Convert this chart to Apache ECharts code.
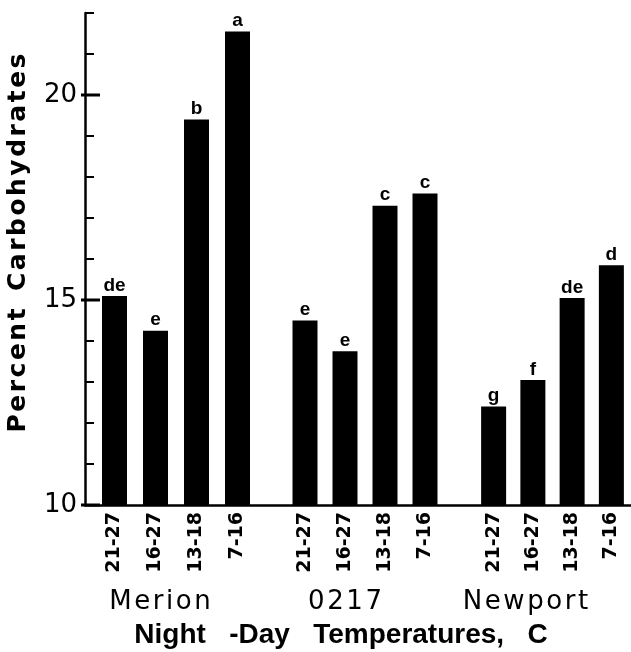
<!DOCTYPE html>
<html>
<head>
<meta charset="utf-8">
<script src="https://cdn.jsdelivr.net/npm/echarts@6/dist/echarts.min.js"></script>
<style>
    html, body { margin: 0; padding: 0; background: #fff; }
    #chart { width: 631px; height: 652px; }
</style>
</head>
<body>
<div id="chart"></div>
<script>
    // temperature regimes (night-day, C)
    var temps = ['21-27', '16-27', '13-18', '7-16'];
    var varieties = ['Merion', '0217', 'Newport'];

    // percent carbohydrates
    var merion = [15.1, 14.25, 19.4, 21.55];
    var v0217 = [14.5, 13.75, 17.3, 17.6];
    var newport = [12.4, 13.05, 15.05, 15.85];

    // significance letters above the bars
    var merionLetters = ['de', 'e', 'b', 'a'];
    var v0217Letters = ['e', 'e', 'c', 'c'];
    var newportLetters = ['g', 'f', 'de', 'd'];

    // labelled (long) ticks on the y axis
    var yTicks = [10, 15, 20];

    var groupValues = [merion, v0217, newport];
    var groupLetters = [merionLetters, v0217Letters, newportLetters];

    // the original print spreads its letters out a little
    function spaced(s) {
        return s.split('').join('\u200A');
    }

    var chart = echarts.init(document.getElementById('chart'));

    var labelFont = 'DejaVu Sans';
    // grid 0: frame with ticks, 1-3: the three varieties
    var grids = [
        {left: 85, right: 0, top: 13, bottom: 147, outerBoundsMode: 'none'},
        {left: 94, width: 164, top: 13, bottom: 147, outerBoundsMode: 'none'},
        {left: 285, width: 160, top: 13, bottom: 147, outerBoundsMode: 'none'},
        {left: 474, width: 157, top: 13, bottom: 147, outerBoundsMode: 'none'}
    ];
    var namePad = [32, 40, 54];

    var xAxes = [{
        gridIndex: 0, type: 'value', min: 0, max: 1,
        axisLine: {show: true, lineStyle: {color: '#000', width: 2.5}},
        axisTick: {show: false}, axisLabel: {show: false}, splitLine: {show: false},
        name: 'Night   -Day   Temperatures,   C',
        nameLocation: 'middle', nameGap: 116,
        nameTextStyle: {color: '#000', fontFamily: 'Liberation Sans', fontWeight: 'bold', fontSize: 28, padding: [0, 34, 0, 0]}
    }];
    var yAxes = [{
        gridIndex: 0, type: 'value', min: 10, max: 22, interval: 1,
        axisLine: {show: true, lineStyle: {color: '#000', width: 2.5}},
        axisTick: {show: true, inside: true, length: 9, lineStyle: {color: '#000', width: 2}},
        axisLabel: {
            show: true, color: '#000', fontFamily: labelFont, fontSize: 26, margin: 8,
            formatter: function (v) { return yTicks.indexOf(v) >= 0 ? String(v) : ''; }
        },
        splitLine: {show: false}
    }];
    var series = [{
        // long ticks at the labelled values, crossing the axis line
        type: 'custom', xAxisIndex: 0, yAxisIndex: 0, silent: true, z: 100,
        clip: false,
        data: yTicks.map(function (v) { return [0, v]; }),
        renderItem: function (params, api) {
            var p = api.coord([0, api.value(1)]);
            return {
                type: 'rect', z2: 100,
                shape: {x: p[0] - 4, y: p[1] - 1.5, width: 19, height: 3},
                style: {fill: '#000'}
            };
        }
    }];

    varieties.forEach(function (name, i) {
        xAxes.push({
            gridIndex: i + 1, type: 'category', data: temps,
            axisLine: {show: false}, axisTick: {show: false},
            axisLabel: {rotate: 90, color: '#000', fontFamily: labelFont, fontWeight: 'bold', fontSize: 19, margin: 7},
            name: spaced(name), nameLocation: 'middle', nameGap: 84,
            nameTextStyle: {color: '#000', fontFamily: labelFont, fontSize: 26, padding: [0, namePad[i], 0, 0]}
        });
        yAxes.push({
            gridIndex: i + 1, type: 'value', min: 10, max: 22, show: false
        });
        series.push({
            type: 'bar', name: name,
            xAxisIndex: i + 1, yAxisIndex: i + 1,
            data: groupValues[i],
            barWidth: 25,
            itemStyle: {color: '#000'},
            label: {
                show: true, position: 'top', distance: 1,
                color: '#000', fontFamily: 'Liberation Sans', fontWeight: 'bold', fontSize: 19,
                formatter: function (p) { return groupLetters[i][p.dataIndex]; }
            }
        });
    });

    chart.setOption({
        backgroundColor: '#fff',
        animation: false,
        grid: grids,
        xAxis: xAxes,
        yAxis: yAxes,
        series: series,
        graphic: [{
            type: 'text', x: 18, y: 243, rotation: Math.PI / 2,
            style: {
                text: spaced('Percent') + '  ' + spaced('Carbohydrates'),
                fill: '#000', font: 'bold 25px "DejaVu Sans"',
                align: 'center', verticalAlign: 'middle'
            }
        }]
    });
</script>
</body>
</html>
